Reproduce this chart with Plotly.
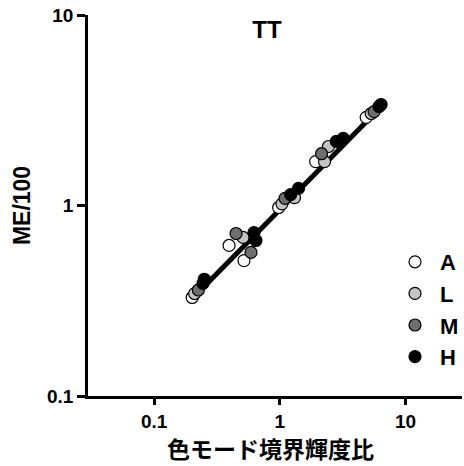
import plotly.graph_objects as go

# Data
a_x = [0.201, 0.395, 0.519, 0.98, 1.93, 4.87]
a_y = [0.329, 0.617, 0.514, 0.976, 1.70, 2.90]
l_x = [0.21, 0.51, 1.04, 1.31, 2.44, 2.27, 5.34]
l_y = [0.345, 0.68, 1.02, 1.10, 2.04, 1.70, 3.04]
m_x = [0.225, 0.449, 0.59, 1.10, 2.15, 5.63]
m_y = [0.36, 0.713, 0.567, 1.09, 1.87, 3.11]
h_x = [0.245, 0.251, 0.623, 0.646, 1.22, 1.41, 2.82, 3.2, 6.17, 6.4]
h_y = [0.39, 0.41, 0.72, 0.655, 1.14, 1.23, 2.17, 2.25, 3.31, 3.39]
fit_x = [0.2, 6.4]
fit_y = [0.323, 3.30]

series = [
    ("A", a_x, a_y, "#ffffff"),
    ("L", l_x, l_y, "#c4c4c4"),
    ("M", m_x, m_y, "#6e6e6e"),
    ("H", h_x, h_y, "#000000"),
]

fig = go.Figure()
fig.add_trace(go.Scatter(x=fit_x, y=fit_y, mode="lines",
                         line=dict(color="black", width=5), showlegend=False,
                         hoverinfo="skip"))
for i, (name, xs, ys, col) in enumerate(series):
    fig.add_trace(go.Scatter(
        x=xs, y=ys, mode="markers", name="<b>" + name + "</b>", legendgroup=name,
        marker=dict(size=12, color=col, line=dict(color="black", width=1.2)),
    ))

font = "Liberation Sans"
fig.update_layout(
    width=464, height=466,
    margin=dict(l=88, r=0, t=15, b=70),
    paper_bgcolor="white", plot_bgcolor="white",
    title=dict(text="<b>TT</b>", x=267 / 464, xanchor="center",
               y=1 - 30 / 466, yanchor="middle",
               font=dict(family=font, size=24, color="black")),
    font=dict(family=font, color="black"),
    legend=dict(x=(392 - 88) / 376, xanchor="left", y=1 - (241 - 15) / 381, yanchor="top",
                font=dict(family=font, size=22, color="black"),
                tracegroupgap=0, bgcolor="rgba(0,0,0,0)", itemwidth=40),
    showlegend=True,
    annotations=[dict(text="<b>色モード境界輝度比</b>", xref="paper", yref="paper",
                      x=(271 - 88) / 376, y=-(448 - 396) / 381, xanchor="center",
                      yanchor="middle", showarrow=False,
                      font=dict(family="Noto Sans CJK JP", size=23, color="black"))],
)
fig.update_xaxes(
    type="log", range=[-1.526, 1.45],
    tickvals=[0.1, 1, 10], ticktext=["<b>0.1</b>", "<b>1</b>", "<b>10</b>"],
    ticks="outside", ticklen=6, tickwidth=2.5, tickcolor="black",
    showline=True, linecolor="black", linewidth=2.5, showgrid=False, zeroline=False,
    tickfont=dict(family=font, size=19, color="black"),
)
fig.update_yaxes(
    type="log", range=[-1, 1],
    tickvals=[0.1, 1, 10], ticktext=["<b>0.1</b>", "<b>1</b>", "<b>10</b>"],
    ticks="outside", ticklen=8, tickwidth=2.5, tickcolor="black",
    showline=True, linecolor="black", linewidth=2.5, showgrid=False, zeroline=False,
    tickfont=dict(family=font, size=19, color="black"),
    title=dict(text="<b>ME/100</b>", standoff=10,
               font=dict(family=font, size=23, color="black")),
)
fig.write_html("out.html")
